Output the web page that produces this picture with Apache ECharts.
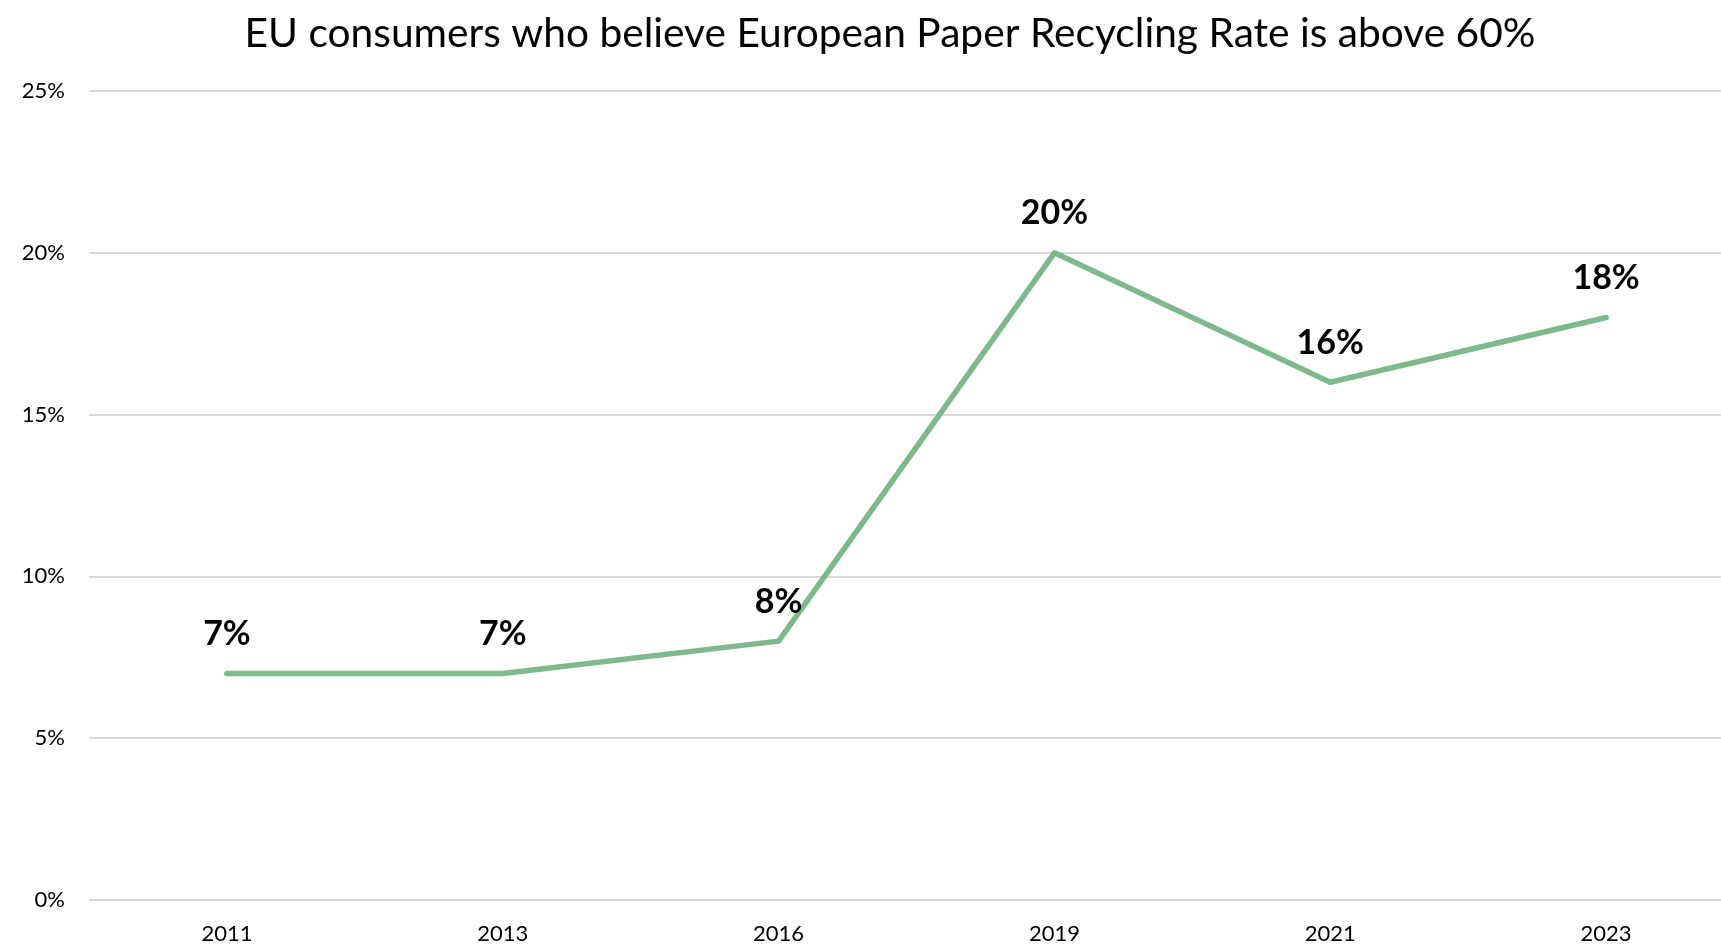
<!DOCTYPE html>
<html>
<head>
<meta charset="utf-8">
<title>EU consumers paper recycling</title>
<script src="https://cdn.jsdelivr.net/npm/echarts@6/dist/echarts.min.js"></script>
<style>
  html, body { margin: 0; padding: 0; background: #fff; }
  #myChart { width: 1721px; height: 946px; }
</style>
</head>
<body>
<div id="myChart"></div>
<script>
// survey years and the share of consumers (%)
var years = ['2011', '2013', '2016', '2019', '2021', '2023']
var share = [7, 7, 8, 20, 16, 18]
var yTicks = { min: 0, max: 25, step: 5 }

var myChart = echarts.init(document.getElementById('myChart'))
myChart.setOption({
  animation: false,
  title: {
    text: 'EU consumers who believe European Paper Recycling Rate is above 60%',
    left: 885,
    textAlign: 'center',
    top: 8,
    textStyle: {
      fontFamily: 'Lato',
      fontWeight: 'normal',
      fontSize: 40.7,
      color: '#000'
    }
  },
  grid: {
    left: 89,
    top: 91,
    width: 1655,
    height: 809,
    containLabel: false,
    outerBoundsMode: 'none'
  },
  xAxis: {
    type: 'category',
    data: years,
    boundaryGap: true,
    axisLine: { show: false },
    axisTick: { show: false },
    axisLabel: {
      margin: 23,
      fontFamily: 'Lato',
      fontSize: 22,
      color: '#000'
    }
  },
  yAxis: {
    type: 'value',
    min: yTicks.min,
    max: yTicks.max,
    interval: yTicks.step,
    axisLine: { show: false },
    axisTick: { show: false },
    axisLabel: {
      formatter: '{value}%',
      margin: 24,
      fontFamily: 'Lato',
      fontSize: 22,
      color: '#000'
    },
    splitLine: {
      show: true,
      lineStyle: { color: '#d9d9d9', width: 2 }
    }
  },
  series: [{
    type: 'line',
    data: share,
    symbol: 'circle',
    symbolSize: 5,
    showSymbol: true,
    itemStyle: { color: '#7db98c', borderWidth: 0 },
    lineStyle: { color: '#7db98c', width: 5.5, cap: 'round' },
    label: {
      show: true,
      position: 'top',
      distance: 20,
      formatter: '{c}%',
      fontFamily: 'Lato',
      fontWeight: 'bold',
      fontSize: 34,
      color: '#000'
    }
  }]
})
</script>
</body>
</html>
